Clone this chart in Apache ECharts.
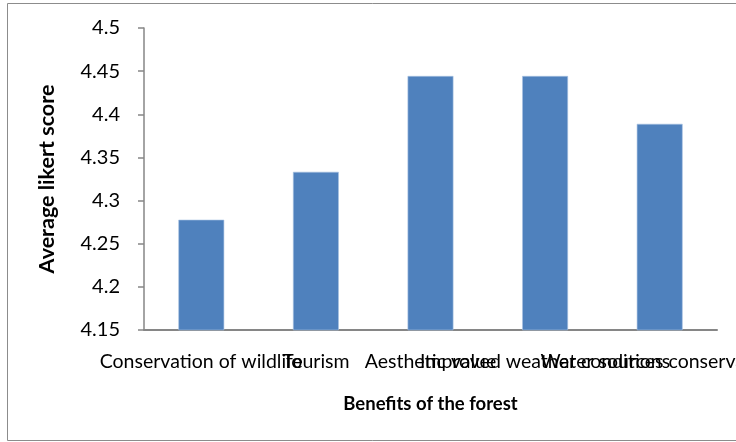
<!DOCTYPE html>
<html>
<head>
<meta charset="utf-8">
<style>
  html, body { margin: 0; padding: 0; background: #fff; }
  #chart { width: 736px; height: 442px; }
</style>
<script src="https://cdn.jsdelivr.net/npm/echarts@6/dist/echarts.min.js"></script>
</head>
<body>
<div id="chart"></div>
<script>
// Benefits of the forest: mean Likert scores per benefit
const categories = [
  'Conservation of wildlife',
  'Tourism',
  'Aesthetic value',
  'Improved weather conditions',
  'Water sources conservation'
];
const scores = [4.2778, 4.3333, 4.4444, 4.4444, 4.3889];
const yMin = 4.15;
const yMax = 4.5;
const yStep = 0.05;

const axisGrey = '#868686';
const font = 'Lato, "Open Sans", sans-serif';

const chart = echarts.init(document.getElementById('chart'), null, { renderer: 'canvas' });

chart.setOption({
  backgroundColor: '#ffffff',
  animation: false,
  graphic: [{
    type: 'rect',
    shape: { x: 7.5, y: 3.5, width: 760, height: 437 },
    style: { fill: 'none', stroke: '#8c8c8c', lineWidth: 1 },
    silent: true,
    z: -1
  }],
  grid: {
    left: 144, right: 19, top: 28, bottom: 112,
    containLabel: false,
    outerBoundsMode: 'none'
  },
  xAxis: {
    type: 'category',
    data: categories,
    name: 'Benefits of the forest',
    nameLocation: 'middle',
    nameGap: 65,
    nameTextStyle: { fontFamily: font, fontWeight: 'bold', fontSize: 18.5, color: '#000' },
    axisLine: { show: true, lineStyle: { color: axisGrey, width: 2 } },
    axisTick: { show: false },
    axisLabel: {
      interval: 0,
      hideOverlap: false,
      margin: 22,
      fontFamily: font,
      fontSize: 19.5,
      color: '#000'
    },
    splitLine: { show: false }
  },
  yAxis: {
    type: 'value',
    min: yMin,
    max: yMax,
    interval: yStep,
    name: 'Average likert score',
    nameLocation: 'middle',
    nameGap: 86,
    nameTextStyle: { fontFamily: font, fontWeight: 'bold', fontSize: 21.5, color: '#000' },
    axisLine: { show: true, lineStyle: { color: axisGrey, width: 1.5 } },
    axisTick: { show: true, inside: false, length: 6, lineStyle: { color: axisGrey, width: 1.5 } },
    axisLabel: {
      margin: 24,
      fontFamily: font,
      fontSize: 20,
      color: '#000',
      formatter: v => String(parseFloat(v.toFixed(2)))
    },
    splitLine: { show: false }
  },
  series: [{
    type: 'bar',
    data: scores,
    barWidth: '40%',
    itemStyle: { color: '#4F81BD', borderColor: '#a9c3e3', borderWidth: 0.6 }
  }]
});
</script>
</body>
</html>
